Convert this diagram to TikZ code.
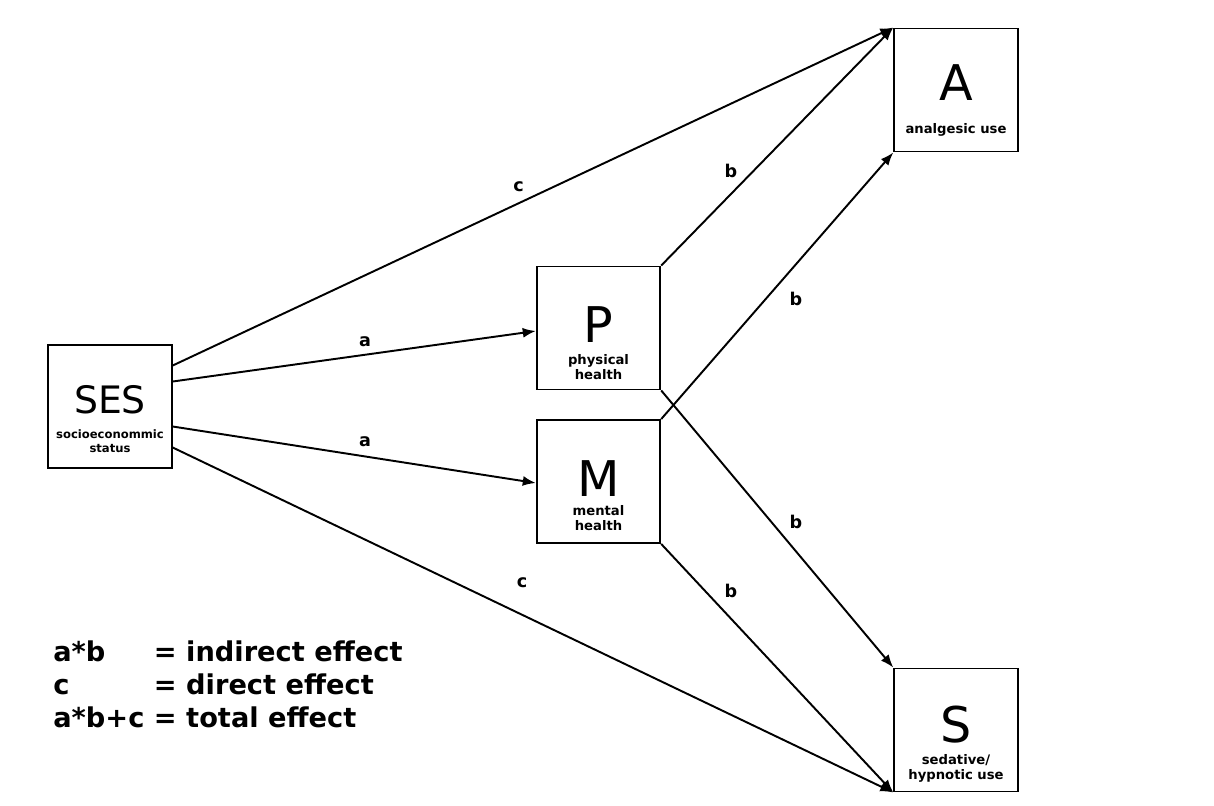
\documentclass[tikz,border=0pt]{standalone}
\usepackage{fontspec}
\setmainfont{DejaVu Sans}
\usepackage{xcolor}
\usepackage{tikz}
\usetikzlibrary{arrows.meta, positioning, calc}

\begin{document}
\begin{tikzpicture}[
    every node/.style={font=\normalsize},
    box/.style={rectangle, draw, line width=1.1pt, minimum width=2.47cm, minimum height=2.46cm, inner sep=0pt},
    letter/.style={font=\fontsize{28}{30}\selectfont, inner sep=0pt},
    sub/.style={font=\bfseries\fontsize{7.5}{8.6}\selectfont, align=center, inner sep=0pt},
    lab/.style={font=\bfseries\fontsize{10}{12}\selectfont, inner sep=1pt},
    arrow/.style={-{Latex[length=2.6mm, width=2mm]}, line width=1.1pt}
]
\useasboundingbox (0,0) rectangle (24.28,-16.10);
% boxes
\node[box] (SES) at (2.20,-8.13) {};
\node[box] (P) at (11.97,-6.56) {};
\node[box] (M) at (11.97,-9.63) {};
\node[box] (A) at (19.12,-1.80) {};
\node[box] (S) at (19.12,-14.60) {};
% texts inside the boxes
\node[letter, font=\fontsize{21.5}{24}\selectfont] (SES-t) at ($(SES)+(0,0.14)$) {SES};
\node[sub, font=\bfseries\fontsize{6.6}{7.6}\selectfont] (SES-s) at ($(SES)+(0,-0.69)$) {socioeconommic\\status};
\node[letter] (P-t) at ($(P)+(0,0.06)$) {P};
\node[sub] (P-s) at ($(P)+(0,-0.79)$) {physical\\health};
\node[letter] (M-t) at ($(M)+(0,0.06)$) {M};
\node[sub] (M-s) at ($(M)+(0,-0.74)$) {mental\\health};
\node[letter] (A-t) at ($(A)+(0,0.14)$) {A};
\node[sub] (A-s) at ($(A)+(0,-0.80)$) {analgesic use};
\node[letter] (S-t) at ($(S)+(0,0.10)$) {S};
\node[sub] (S-s) at ($(S)+(0,-0.77)$) {sedative/\\hypnotic use};
% start points on SES
\coordinate (ses-c1) at ($(SES.east)+(0,0.82)$);
\coordinate (ses-a1) at ($(SES.east)+(0,0.50)$);
\coordinate (ses-a2) at ($(SES.east)+(0,-0.40)$);
\coordinate (ses-c2) at ($(SES.east)+(0,-0.82)$);
% paths
\draw[arrow] (ses-c1) -- node[lab, pos=0.48, above=5pt] {c} (A.north west);
\draw[arrow] (ses-a1) -- node[lab, pos=0.53, above=3pt] {a} ($(P.west)+(0,-0.06)$);
\draw[arrow] (ses-a2) -- node[lab, pos=0.53, above=4pt] {a} ($(M.west)+(0,-0.03)$);
\draw[arrow] (ses-c2) -- node[lab, pos=0.485, above=14pt] {c} (S.south west);
\draw[arrow] (P.north east) -- node[lab, pos=0.30, above=8pt] {b} (A.north west);
\draw[arrow] (M.north east) -- node[lab, pos=0.58, below=14pt] {b} (A.south west);
\draw[arrow] (P.south east) -- node[lab, pos=0.58, above=11pt] {b} (S.north west);
\draw[arrow] (M.south east) -- node[lab, pos=0.30, above=10pt] {b} (S.south west);
% legend
\node[anchor=west, inner sep=0pt, font=\bfseries\fontsize{15.5}{18.9}\selectfont] (legend) at (1.06,-13.76)
  {\begin{tabular}{@{}l@{\ }l@{}}
   a*b & = indirect effect\\
   c & = direct effect\\
   a*b+c & = total effect
   \end{tabular}};
\end{tikzpicture}
\end{document}
